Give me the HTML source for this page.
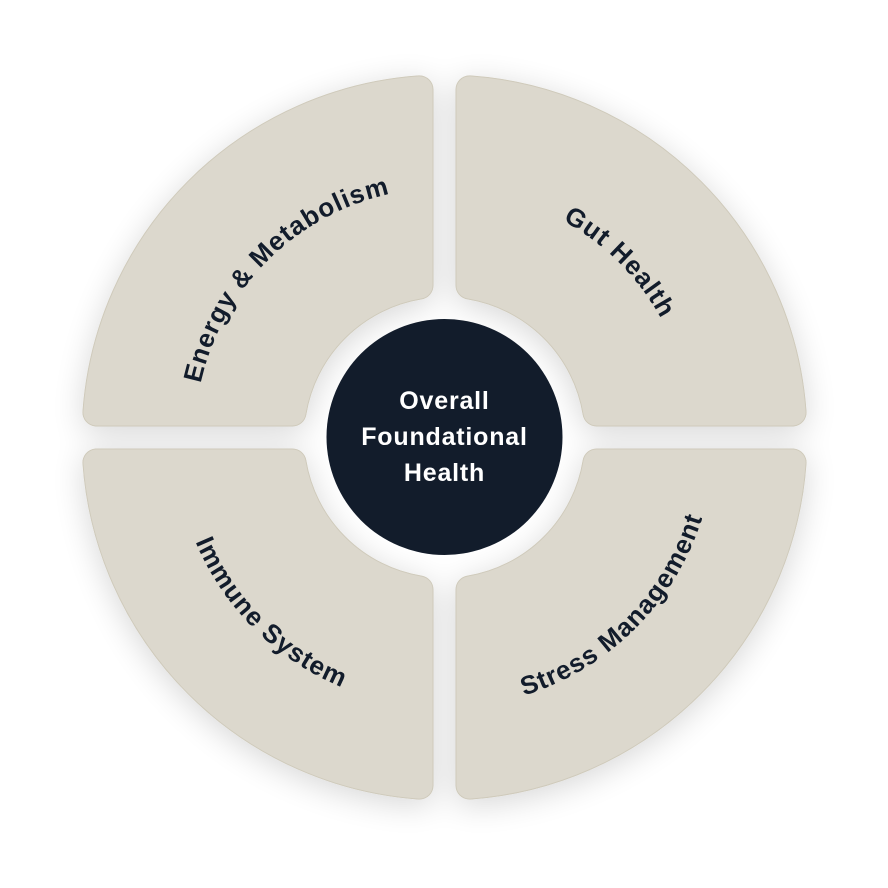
<!DOCTYPE html>
<html>
<head>
<meta charset="utf-8">
<style>
  html,body{margin:0;padding:0;background:#ffffff;}
  svg{display:block;}
  text{font-family:"Liberation Sans", Arial, sans-serif;}
</style>
</head>
<body>
<svg width="888" height="888" viewBox="0 0 888 888" xmlns="http://www.w3.org/2000/svg">
  <defs>
    <filter id="sh" x="-30%" y="-30%" width="160%" height="160%">
      <feGaussianBlur in="SourceAlpha" stdDeviation="16"/>
      <feOffset dx="0" dy="6" result="b"/>
      <feComponentTransfer in="b" result="s">
        <feFuncA type="linear" slope="0.16"/>
      </feComponentTransfer>
      <feMerge>
        <feMergeNode in="s"/>
        <feMergeNode in="SourceGraphic"/>
      </feMerge>
    </filter>
    <path id="q" d="M -25,-151.96 L -25,-348.10 A 349 349 0 0 0 -348.10,-25 L -151.96,-25 A 154 154 0 0 1 -25,-151.96 Z"/>
    <path id="pE" d="M 204.0,501.9 A 248 248 0 0 1 508.9,197.0" fill="none"/>
    <path id="pG" d="M 380.6,198.9 A 247 247 0 0 1 683.1,501.4" fill="none"/>
    <path id="pI" d="M 183.4,368.8 A 270 270 0 0 0 515.5,698.0" fill="none"/>
    <path id="pS" d="M 374.6,698.3 A 270 270 0 0 0 705.3,367.6" fill="none"/>
  </defs>

  <g transform="translate(444.5,437.5)">
    <g filter="url(#sh)" fill="#cfcabb" stroke="#cfcabb" stroke-width="28" stroke-linejoin="round">
      <use href="#q"/>
      <use href="#q" transform="scale(-1,1)"/>
      <use href="#q" transform="scale(1,-1)"/>
      <use href="#q" transform="scale(-1,-1)"/>
    </g>
    <g fill="#dcd8cd" stroke="#dcd8cd" stroke-width="26" stroke-linejoin="round">
      <use href="#q"/>
      <use href="#q" transform="scale(-1,1)"/>
      <use href="#q" transform="scale(1,-1)"/>
      <use href="#q" transform="scale(-1,-1)"/>
    </g>
  </g>

  <circle cx="444.5" cy="437" r="118" fill="#121c2b"/>

  <g fill="#121c2b" font-size="26" font-weight="bold" letter-spacing="1">
    <text><textPath href="#pE" startOffset="50%" text-anchor="middle">Energy &amp; Metabolism</textPath></text>
    <text><textPath href="#pG" startOffset="50%" text-anchor="middle">Gut Health</textPath></text>
    <text><textPath href="#pI" startOffset="50%" text-anchor="middle">Immune System</textPath></text>
    <text><textPath href="#pS" startOffset="50%" text-anchor="middle">Stress Management</textPath></text>
  </g>

  <g fill="#ffffff" font-size="25" font-weight="bold" letter-spacing="0.8" text-anchor="middle">
    <text x="444.5" y="409">Overall</text>
    <text x="444.5" y="445">Foundational</text>
    <text x="444.5" y="481">Health</text>
  </g>
</svg>
</body>
</html>
